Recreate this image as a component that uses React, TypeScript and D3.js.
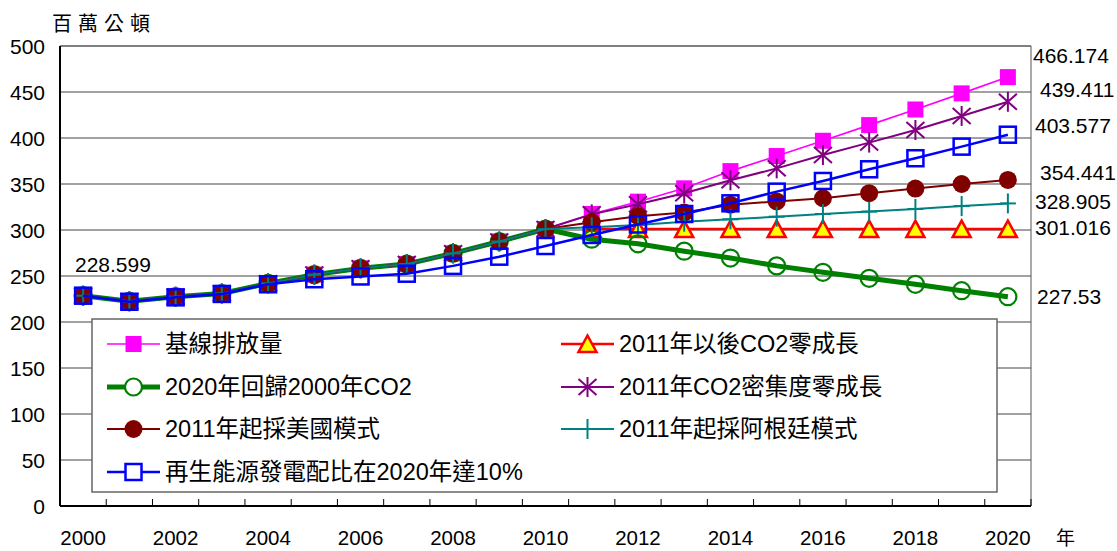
import React, { useEffect } from 'react';
import * as d3 from 'd3';

const years = d3.range(2000, 2021).map(String);

// shared history 2000-2010
const history = [228.599, 222.5, 227.5, 231, 242, 251.5, 258.3, 263, 274.6, 287.5, 301.016];
const baseline = [...history, 317.4, 330.8, 345.3, 364, 380.4, 397, 414, 431, 448.5, 466.174];
const zeroGrowth = [...history.map(() => null), 301.016, 301.016, 301.016, 301.016, 301.016, 301.016, 301.016, 301.016, 301.016, 301.016];
const back2000 = [...history, 290, 285, 277, 269.5, 261, 254, 247.5, 241, 234, 227.53];
const intensity = [...history, 317, 328, 340, 354, 367, 381.5, 395, 408.7, 424, 439.411];
const usModel = [...history, 308.5, 315, 319, 327.5, 331, 334.5, 340, 345, 350, 354.441];
const argModel = [...history, 303, 305.5, 309, 311.6, 314.5, 317.4, 320, 322.8, 326, 328.905];
const renewable = [228.599, 222, 226.8, 230.5, 241, 246.5, 249.5, 252.5, 261, 271, 282.6, 294.6, 306, 317.4, 329, 341.7, 353.3, 366, 378, 390.6, 403.577];

const yTicks = d3.range(0, 501, 50);
const xTickLabels = years.filter((_, i) => i % 2 === 0);

type MarkerType = 'squareFill' | 'triangle' | 'circleOpen' | 'star' | 'circleFill' | 'plus' | 'squareOpen';

interface Series {
  name: string;
  values: (number | null)[];
  color: string;
  width: number;
  marker: MarkerType;
}

// draw order = z order in the chart
const series: Series[] = [
  { name: '基線排放量', values: baseline, color: '#ff00ff', width: 1.6, marker: 'squareFill' },
  { name: '2011年以後CO2零成長', values: zeroGrowth, color: '#ff0000', width: 2.4, marker: 'triangle' },
  { name: '2020年回歸2000年CO2', values: back2000, color: '#008000', width: 5, marker: 'circleOpen' },
  { name: '2011年CO2密集度零成長', values: intensity, color: '#800080', width: 2, marker: 'star' },
  { name: '2011年起採美國模式', values: usModel, color: '#800000', width: 2, marker: 'circleFill' },
  { name: '2011年起採阿根廷模式', values: argModel, color: '#008080', width: 2, marker: 'plus' },
  { name: '再生能源發電配比在2020年達10%', values: renewable, color: '#0000ff', width: 2.5, marker: 'squareOpen' },
];

const legendLeft = ['基線排放量', '2020年回歸2000年CO2', '2011年起採美國模式', '再生能源發電配比在2020年達10%'];
const legendRight = ['2011年以後CO2零成長', '2011年CO2密集度零成長', '2011年起採阿根廷模式'];

const endLabels = [
  { text: '466.174', value: 466.174, dx: 2, dy: -22 },
  { text: '439.411', value: 439.411, dx: 9, dy: -12 },
  { text: '403.577', value: 403.577, dx: 4, dy: -9 },
  { text: '354.441', value: 354.441, dx: 9, dy: -7 },
  { text: '328.905', value: 328.905, dx: 4, dy: -2 },
  { text: '301.016', value: 301.016, dx: 4, dy: -2 },
  { text: '227.53', value: 227.53, dx: 6, dy: 0 },
];

const FONT = '"Liberation Sans", Arial, "Noto Sans CJK TC", sans-serif';
const CJK = '"Noto Sans CJK TC", "Noto Sans CJK JP", serif';

const Marker = ({ type, x, y, color, legend }: { type: MarkerType; x: number; y: number; color: string; legend?: boolean }) => {
  switch (type) {
    case 'squareFill':
      return <rect x={x - 8} y={y - 8} width={16} height={16} fill={color} />;
    case 'squareOpen':
      return <rect x={x - 8} y={y - 8} width={16} height={16} fill={legend ? '#fff' : 'none'} stroke={color} strokeWidth={2.5} />;
    case 'triangle':
      return (
        <path d={`M${x},${y - 8.5}L${x + 9},${y + 8}L${x - 9},${y + 8}Z`} fill="#ffff00" stroke={color} strokeWidth={2.5} strokeLinejoin="miter" />
      );
    case 'circleOpen':
      return <circle cx={x} cy={y} r={8.5} fill={legend ? '#fff' : 'none'} stroke={color} strokeWidth={2.2} />;
    case 'circleFill':
      return <circle cx={x} cy={y} r={9} fill={color} />;
    case 'star':
      return (
        <g stroke={color} strokeWidth={2}>
          <line x1={x} y1={y - 10} x2={x} y2={y + 10} />
          <line x1={x - 9} y1={y - 8} x2={x + 9} y2={y + 8} />
          <line x1={x - 9} y1={y + 8} x2={x + 9} y2={y - 8} />
        </g>
      );
    case 'plus':
      return (
        <g stroke={color} strokeWidth={2}>
          <line x1={x} y1={y - 10} x2={x} y2={y + 10} />
          <line x1={x - 8} y1={y} x2={x + 8} y2={y} />
        </g>
      );
  }
};

export default function App() {
  useEffect(() => {
    document.body.style.margin = '0';
  }, []);

  const width = 1117;
  const height = 551;
  const left = 60;
  const right = 1031;
  const top = 46;
  const bottom = 506;

  const x = d3.scaleBand<string>().domain(years).range([left, right]);
  const cx = (yr: string) => (x(yr) ?? 0) + x.bandwidth() / 2;
  const y = d3.scaleLinear().domain([0, 500]).range([bottom, top]);

  const line = d3
    .line<number | null>()
    .defined((d) => d !== null)
    .x((_, i) => cx(years[i]))
    .y((d) => y(d as number));

  const byName = (n: string) => series.find((s) => s.name === n)!;

  const legendRows = [344, 387, 429, 472];

  const legendItem = (s: Series, lx: number, ly: number) => (
    <g key={s.name}>
      <line x1={lx} x2={lx + 53} y1={ly} y2={ly} stroke={s.color} strokeWidth={s.width} />
      <Marker type={s.marker} x={lx + 26.5} y={ly} color={s.color} legend />
      <text x={lx + 58} y={ly} dominantBaseline="central" fontSize={23.5} fontFamily={FONT} fill="#000">
        {s.name}
      </text>
    </g>
  );

  return (
    <svg width={width} height={height} style={{ display: 'block', background: '#fff' }}>
      {/* title */}
      <text x={52} y={22} dominantBaseline="central" fontSize={20} fontFamily={CJK} letterSpacing={6}>
        百萬公頓
      </text>
      <text x={1056} y={545} fontSize={19} fontFamily={CJK}>
        年
      </text>

      {/* gridlines */}
      {yTicks.filter((t) => t > 0).map((t) => (
        <line key={t} x1={left} x2={right} y1={y(t)} y2={y(t)} stroke={t === 500 ? '#000' : '#444'} strokeWidth={1} />
      ))}
      <line x1={right} x2={right} y1={top} y2={bottom} stroke="#555" strokeWidth={1} />

      {/* axes */}
      <line x1={left} x2={left} y1={top} y2={bottom} stroke="#000" strokeWidth={2} />
      <line x1={left} x2={right} y1={bottom} y2={bottom} stroke="#000" strokeWidth={2} />
      {years.map((yr) => (
        <line key={yr} x1={(x(yr) ?? 0) + x.bandwidth()} x2={(x(yr) ?? 0) + x.bandwidth()} y1={bottom} y2={bottom - 7} stroke="#000" strokeWidth={1} />
      ))}
      {yTicks.map((t) => (
        <text key={t} x={45} y={y(t)} textAnchor="end" dominantBaseline="central" fontSize={21} fontFamily={FONT}>
          {t}
        </text>
      ))}
      {xTickLabels.map((yr) => (
        <text key={yr} x={cx(yr)} y={537} textAnchor="middle" dominantBaseline="central" fontSize={20.5} fontFamily={FONT}>
          {yr}
        </text>
      ))}

      {/* series */}
      {series.map((s) => (
        <g key={s.name}>
          <path d={line(s.values) ?? ''} fill="none" stroke={s.color} strokeWidth={s.width} strokeLinejoin="round" />
          {s.values.map((v, i) =>
            v === null ? null : <Marker key={i} type={s.marker} x={cx(years[i])} y={y(v)} color={s.color} />
          )}
        </g>
      ))}

      {/* data labels */}
      <text x={75} y={y(history[0]) - 31} dominantBaseline="central" fontSize={21} fontFamily={FONT}>
        228.599
      </text>
      {endLabels.map((l) => (
        <text key={l.text} x={right + l.dx} y={y(l.value) + l.dy} dominantBaseline="central" fontSize={21} fontFamily={FONT}>
          {l.text}
        </text>
      ))}

      {/* legend */}
      <rect x={92} y={319} width={905} height={173} fill="#fff" stroke="#666" strokeWidth={1.5} />
      {legendLeft.map((n, i) => legendItem(byName(n), 107, legendRows[i]))}
      {legendRight.map((n, i) => legendItem(byName(n), 561, legendRows[i]))}
    </svg>
  );
}
